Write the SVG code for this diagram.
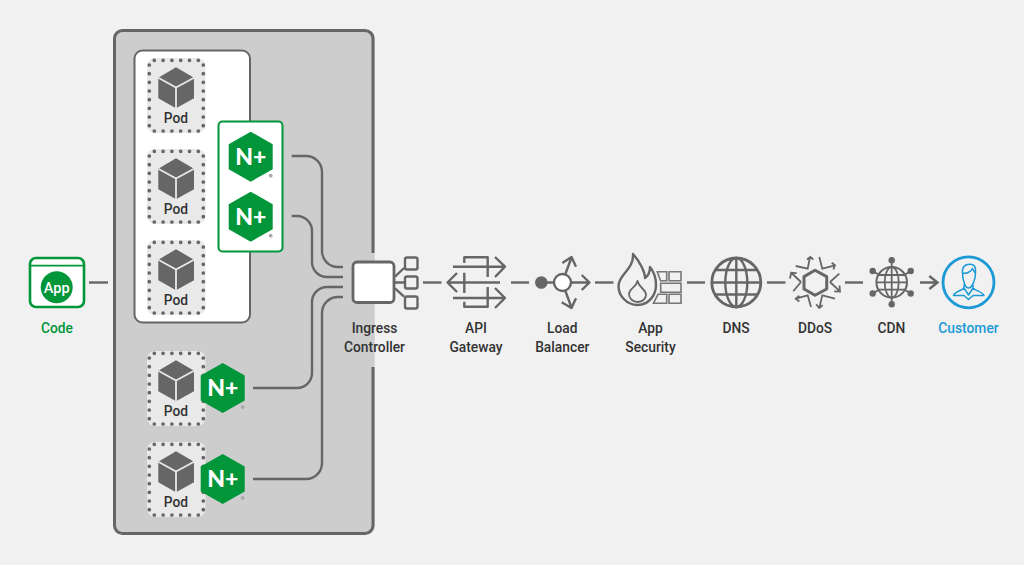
<svg xmlns="http://www.w3.org/2000/svg" width="1024" height="565" viewBox="0 0 1024 565">
<style>
text{font-family:"Roboto","Liberation Sans",sans-serif;font-size:13.800px;font-weight:500;fill:#333;text-anchor:middle}
text.np{font-family:"Lato","Liberation Sans",sans-serif;font-size:23px;font-weight:900;fill:#fff}
.l{fill:none;stroke:#666;stroke-width:2.400;stroke-linecap:butt}
.i{fill:none;stroke:#666;stroke-width:2.400;stroke-linejoin:round}
.t{fill:none;stroke:#666;stroke-width:1.800}
.w{fill:none;stroke:#777;stroke-width:1.600}
</style>
<defs>
<g id="pod">
<rect x="0" y="0" width="58.500" height="75" rx="8" fill="#e9e9e9"/>
<path d="M7.300 2.300H52M7.300 73H52" fill="none" stroke="#666" stroke-width="3.700" stroke-linecap="round" stroke-dasharray="0 8.800"/>
<path d="M2.300 7V68M56.300 7V68" fill="none" stroke="#666" stroke-width="3.700" stroke-linecap="round" stroke-dasharray="0 8.670"/>
<path d="M29 9.300 47 19.700V40.300L29 50.300 11.300 40.300V19.700Z" fill="#666"/>
<path d="M11.300 19.700 29 29.500 47 19.700M29 29.500V50.300" fill="none" stroke="#e9e9e9" stroke-width="1.800"/>
</g>
<g id="hex">
<path d="M0-25 22-12.500V12.500L0 25-22 12.500V-12.500Z" fill="#009639"/>
<circle cx="20" cy="19" r="1.900" fill="#aaa"/>
</g>
</defs>
<rect width="1024" height="565" fill="#f1f1f1"/>
<g id="cluster">
<rect x="114" y="30" width="260.700" height="504" rx="8" fill="#cdcdcd"/>
<path d="M373 253V38.500a8 8 0 0 0-8-8H122.500a8 8 0 0 0-8 8V525.500a8 8 0 0 0 8 8H365a8 8 0 0 0 8-8V367" fill="none" stroke="#666" stroke-width="3"/>
</g>
<g id="panel">
<rect x="134.500" y="50.500" width="115.500" height="272" rx="8" fill="#fff" stroke="#666" stroke-width="2"/>
</g>
<g id="pod1"><use href="#pod" x="147" y="58"/><text x="176" y="123">Pod</text></g>
<g id="pod2"><use href="#pod" x="147" y="149"/><text x="176" y="214">Pod</text></g>
<g id="pod3"><use href="#pod" x="147" y="240"/><text x="176" y="305">Pod</text></g>
<g id="pod4"><use href="#pod" x="147" y="351"/><text x="176" y="416">Pod</text></g>
<g id="pod5"><use href="#pod" x="147" y="442"/><text x="176" y="507">Pod</text></g>
<g id="nginx-pair">
<rect x="218.500" y="121.500" width="64" height="130" rx="4" fill="#fff" stroke="#009639" stroke-width="2"/>
<use href="#hex" x="250.700" y="156.700"/><text class="np" x="250.700" y="165">N+</text>
<use href="#hex" x="250.700" y="216.700"/><text class="np" x="250.700" y="225">N+</text>
</g>
<g id="nginx4"><use href="#hex" x="222.700" y="388"/><text class="np" x="222.700" y="396.300">N+</text></g>
<g id="nginx5"><use href="#hex" x="222.700" y="479"/><text class="np" x="222.700" y="487.300">N+</text></g>
<g id="connectors">
<path class="l" d="M291.700 156H306A16 16 0 0 1 322 172V251A16 16 0 0 0 338 267H343"/>
<path class="l" d="M291.700 216H297A15 15 0 0 1 312 231V262A15 15 0 0 0 327 277H343"/>
<path class="l" d="M253 388H297A15 15 0 0 0 312 373V302A15 15 0 0 1 327 287H343"/>
<path class="l" d="M253 479H306A16 16 0 0 0 322 463V313A16 16 0 0 1 338 297H343"/>
<path class="l" d="M89 282.500H108"/>
<path class="l" d="M423 282.500H441.500"/>
<path class="l" d="M511 282.500H529"/>
<path class="l" d="M595 282.500H613.500"/>
<path class="l" d="M687 282.500H705"/>
<path class="l" d="M767 282.500H785.500"/>
<path class="l" d="M845 282.500H863"/>
<path class="l" d="M920 282.500H937M929.300 276 937.500 282.500 929.300 289"/>
</g>
<g id="code">
<rect x="30" y="258" width="54" height="49" rx="6" fill="#fff" stroke="#009639" stroke-width="2.600"/>
<path d="M30 265.700H84" stroke="#009639" stroke-width="1.800" fill="none"/>
<circle cx="56.700" cy="287.300" r="16" fill="#009639"/>
<text x="56.700" y="292.500" style="fill:#fff;font-size:14.500px">App</text>
<text x="57" y="332.500" style="fill:#009639">Code</text>
</g>
<g id="ingress">
<rect x="353" y="262" width="41" height="40.500" rx="4" fill="#fff" stroke="#666" stroke-width="2.800"/>
<path class="i" d="M395 276.700 404 268M395 282.500H405M395 288.300 404 296.700"/>
<rect x="405" y="257.500" width="12.500" height="12" rx="2" class="i"/>
<rect x="405" y="276.500" width="12.500" height="12" rx="2" class="i"/>
<rect x="405" y="296.500" width="12.500" height="12" rx="2" class="i"/>
<text x="374.500" y="332.700">Ingress</text>
<text x="374.500" y="351.700">Controller</text>
</g>
<g id="api">
<path class="i" d="M464.300 263V257.300H487.700V277M487.700 287V306.700H464.300V301.700M464.300 272.700V293"/>
<path class="i" d="M453 266.700H505M495 257 505 266.700 495 277M447.500 282.500H500M457 273 447.500 282.500 457 292M453 298H505M495 288 505 298 495 308"/>
<text x="476" y="332.700">API</text>
<text x="476" y="351.700">Gateway</text>
</g>
<g id="lb">
<circle cx="541.300" cy="282.500" r="6.300" fill="#666"/>
<path class="i" d="M547 282.500H554M571 282.500H589.500M581.700 275 589.500 282.500 581.700 290M565 275 571.500 257.500M562.300 263 571.500 257 576 266.700M565 290 571.500 307.500M561.700 302.300 571.500 308 576 298.300"/>
<circle cx="562.500" cy="282.500" r="8.500" fill="#fff" stroke="#666" stroke-width="2.400"/>
<text x="562.300" y="332.700">Load</text>
<text x="562.300" y="351.700">Balancer</text>
</g>
<g id="security">
<path class="i" d="M633 254C640 262 645 272 645 278 648 276 650 272 650 267 654 272 656 279 656 285 656 296 648 305 637.500 305 627 305 618.500 296 618.500 286 618.500 274 634 270 633 254Z"/>
<path class="i" style="stroke-width:1.800" d="M637.500 281C639 288 646 289 646 295 646 299 642 302 637.500 302 632.500 302 629 298 629 294 629 288 636 288 637.500 281Z"/>
<path class="w" d="M657.300 271.700H666.700V280.700H660.500ZM669 271.700H681V280.700H669ZM660.700 283.300H681V292.300H660.700ZM658 294.300H666.700V303.300H653.500ZM669 294.300H681V303.300H669Z"/>
<text x="650.500" y="332.700">App</text>
<text x="650.500" y="351.700">Security</text>
</g>
<g id="dns">
<circle cx="736.300" cy="282.500" r="24.500" class="i" style="stroke-width:2.800"/>
<ellipse cx="736.300" cy="282.500" rx="11" ry="24.500" class="i"/>
<path class="i" d="M736.300 258V307M711.800 282.500H760.800M715.500 270H757M715.500 294.500H757"/>
<text x="736" y="332.700">DNS</text>
</g>
<g id="ddos">
<path d="M815 270.300 826.700 276.600V289 L815 295.300 804 289V276.600Z" class="i" style="stroke-width:3"/>
<path class="t" d="M801 282 791.500 273M790 278.500 791.200 272.700 796.700 273.200M801 282 793.300 291.300M830 282 840 291.300M839.500 285.500 840 291.500 834.200 291.300M830 282 839.300 273.700M795.700 266 807.700 268.700 810 257M807 259.500 810.300 257 813.300 259.500M819.300 257 822.300 268.700 835 265.300M831.700 262.700 835 265.300 833.300 269.500M811 307 807.700 295.300 795.700 298.700M799.300 295.700 795.700 298.700 799.300 301.500M835 298.700 822.300 295.300 819.300 308M816.200 304.200 819.200 308 822.700 305.200"/>
<text x="815" y="332.700">DDoS</text>
</g>
<g id="cdn">
<path class="t" d="M891.700 260V304.500M873 271 879 275M910.500 271 904.500 275M873 293.500 879 289.500M910.500 293.500 904.500 289.500"/>
<circle cx="891.700" cy="282.300" r="15.300" fill="#f1f1f1" stroke="#666" stroke-width="2"/>
<ellipse cx="891.700" cy="282.300" rx="7" ry="15.300" class="t"/>
<path class="t" d="M891.700 267V297.600M876.400 282.300H907M878.500 275H905M878.500 289.600H905"/>
<circle cx="891.700" cy="260.300" r="3.200" fill="#666"/>
<circle cx="891.700" cy="304.300" r="3.200" fill="#666"/>
<circle cx="872.700" cy="271" r="3.200" fill="#666"/>
<circle cx="910.700" cy="271" r="3.200" fill="#666"/>
<circle cx="872.700" cy="293.500" r="3.200" fill="#666"/>
<circle cx="910.700" cy="293.500" r="3.200" fill="#666"/>
<text x="891.500" y="332.700">CDN</text>
</g>
<g id="customer">
<circle cx="968.500" cy="282.300" r="25.500" fill="none" stroke="#1b9ad6" stroke-width="2.800"/>
<path d="M962.500 272C962 265 968 263.500 972 264.500 975 265 976 268 975.500 273 975.500 280 972 288 968.500 288 965 288 962.500 280 962.500 272ZM962.500 273C966 274 971 272 972.500 268.500 973.500 270.500 975 272.500 975.500 274M964 284.500V288C962 291 955 291 953.500 295.500H964L968.500 299.500 973 295.500H984C982 291 975 291 973 288V284.500M964 288 968.500 295 973 288" fill="none" stroke="#1b9ad6" stroke-width="1.500" stroke-linejoin="round"/>
<text x="968.500" y="332.700" style="fill:#1b9ad6">Customer</text>
</g>
</svg>
